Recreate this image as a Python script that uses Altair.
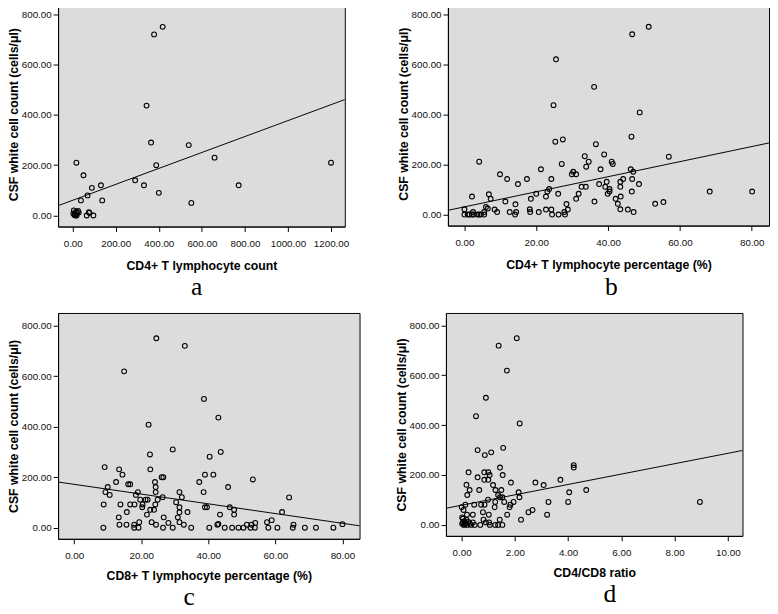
import altair as alt
import pandas as pd

# ---------------- data ----------------
# Panel a: CD4+ T lymphocyte count vs CSF WBC
a_x = [418, 378, 343, 364, 539, 659, 1200, 17, 50, 388, 290, 331, 131, 89, 771, 400, 69, 38, 137, 551,
       78, 65, 96, 75, 5, 10, 12, 15, 20, 25, 8, 18, 28, 3]
a_y = [750, 720, 437, 290, 280, 230, 210, 210, 160, 200, 140, 120, 120, 110, 120, 90, 80, 60, 60, 50,
       10, 0, 0, 13, 20, 5, 0, 15, 10, 18, 2, 0, 12, 8]

# Panel b: CD4+ T lymphocyte percentage vs CSF WBC
b_x = [51.3, 46.7, 25.5, 36.1, 24.8, 48.8, 46.5, 25.3, 27.4, 36.6, 4.1, 56.9, 33.5, 38.9, 34.6, 33.9, 41.0, 41.3,
       27.1, 21.3, 37.9, 46.3, 47.0, 9.9, 29.9, 30.3, 31.1, 11.9, 17.4, 24.2, 14.9, 39.6, 43.4, 44.2, 46.7, 48.6,
       37.5, 32.6, 33.8, 23.6, 23.1, 39.2, 40.4, 43.4, 39.9, 40.4, 46.6, 68.3, 80.1, 6.8, 20.0, 26.1, 31.8, 2.1,
       22.7, 7.3, 18.5, 31.1, 43.5, 42.1, 11.4, 36.2, 55.4, 53.1, 6.0, 42.7, 28.4, 14.2, 6.5, 8.4, 0.0, 18.2,
       22.7, 24.2, 28.8, 43.4, 45.5, 9.1, 12.6, 14.4, 18.3, 20.7, 27.8, 47.1, 5.5, 2.4, 0.0, 0.9, 1.4, 2.1,
       2.6, 4.1, 4.6, 5.5, 14.1, 24.4, 26.2, 28.0, 3.6]
b_y = [750, 720, 620, 510, 437, 408, 311, 291, 300, 281, 211, 231, 233, 240, 211, 191, 211, 202,
       202, 181, 181, 181, 171, 161, 161, 171, 161, 142, 142, 142, 122, 131, 131, 142, 142, 122,
       122, 111, 111, 102, 92, 111, 102, 111, 83, 92, 92, 92, 92, 81, 83, 83, 83, 72,
       72, 63, 63, 63, 72, 63, 52, 52, 50, 43, 30, 43, 42, 41, 24, 20, 21, 21,
       20, 20, 20, 21, 20, 10, 10, 10, 10, 10, 10, 10, 10, 10, 0, 0, 0, 0,
       0, 0, 0, 0, 0, 0, 0, 0, 0]

# Panel c: CD8+ T lymphocyte percentage vs CSF WBC
c_x = [24.5, 33.0, 14.9, 38.7, 43.0, 22.2, 29.4, 22.6, 43.7, 40.4, 9.1, 13.4, 22.7, 14.4, 39.0, 41.5, 26.1, 26.6,
       53.3, 12.5, 24.1, 37.3, 10.0, 16.1, 16.7, 24.3, 45.9, 9.3, 19.0, 24.3, 31.4, 38.6, 10.6, 18.4, 64.1, 26.4,
       32.1, 21.3, 19.7, 21.9, 24.9, 30.4, 8.8, 13.8, 16.7, 18.0, 20.4, 24.2, 39.0, 39.6, 31.4, 46.4, 20.3, 23.8,
       22.7, 47.7, 31.4, 15.7, 33.8, 62.0, 43.5, 47.7, 21.7, 13.3, 26.7, 30.9, 57.5, 58.9, 23.1, 31.4, 28.1, 19.4,
       43.0, 54.0, 80.0, 13.5, 15.6, 17.9, 24.4, 32.7, 42.7, 52.9, 65.4, 51.5,
       8.7, 17.9, 19.2, 26.5, 29.4, 34.9, 40.3, 44.9, 47.1, 49.0, 50.5, 52.6, 53.9, 57.9, 60.6, 65.2, 68.8, 72.1, 77.3]
c_y = [750, 720, 619, 510, 436, 408, 310, 290, 300, 281, 240, 231, 231, 210, 210, 210, 200, 200,
       191, 181, 181, 181, 161, 172, 172, 161, 161, 141, 141, 141, 141, 141, 130, 130, 120, 121,
       121, 111, 111, 111, 111, 101, 92, 92, 92, 92, 92, 92, 81, 81, 81, 81, 81, 71,
       71, 71, 61, 62, 62, 62, 52, 52, 52, 41, 41, 41, 22, 30, 22, 22, 19, 22,
       15, 19, 14, 12, 12, 12, 12, 12, 12, 12, 12, 12,
       0, 0, 0, 0, 0, 0, 0, 0, 0, 0, 0, 0, 0, 0, 0, 0, 0, 0, 0]

# Panel d: CD4/CD8 ratio vs CSF WBC
d_x = [2.07, 1.39, 1.70, 0.91, 0.54, 2.18, 1.56, 0.60, 1.11, 0.87, 4.21, 4.21, 1.44, 0.26, 0.85, 1.00, 1.05, 1.54,
       0.60, 3.71, 0.85, 1.00, 1.85, 2.77, 3.08, 0.18, 1.18, 4.68, 0.30, 0.66, 1.27, 1.49, 2.14, 4.04, 0.21, 1.37,
       1.44, 1.53, 2.17, 0.99, 1.26, 1.60, 1.95, 3.26, 4.00, 8.95, 1.83, 0.14, 0.47, 0.73, 0.86, 1.80, 1.24, 0.00,
       2.66, 2.51, 0.07, 0.80, 0.42, 1.02, 1.71, 3.21, 0.20, 2.23, 0.82, 1.43, 0.02,
       0.02, 0.05, 0.08, 0.10, 0.12, 0.15, 0.18, 0.20, 0.25, 0.30, 0.35, 0.05,
       0.49, 0.70, 1.06, 1.26, 1.37, 1.53, 0.91, 1.03, 0.42]
d_y = [749, 719, 619, 510, 436, 407, 309, 300, 291, 280, 240, 230, 230, 211, 211, 211, 200, 200,
       191, 181, 181, 181, 170, 170, 160, 161, 160, 140, 140, 140, 140, 140, 131, 131, 120, 120,
       111, 111, 111, 101, 92, 92, 92, 92, 92, 92, 81, 81, 81, 81, 81, 71, 71, 71,
       60, 51, 60, 51, 41, 41, 41, 41, 41, 21, 21, 21, 30,
       5, 10, 0, 15, 3, 8, 20, 0, 12, 5, 0, 25,
       0, 0, 0, 0, 0, 0, 10, 10, 10]

# fitted lines (intercept, slope)
fit_a = (60.5, 0.3168)
fit_b = (30.8, 3.01)
fit_c = (171.7, -1.928)
fit_d = (79.1, 20.8)

x_dom_a = [-68, 1264]
x_dom_b = [-4.6, 84.8]
x_dom_c = [-4.8, 85.1]
x_dom_d = [-0.59, 10.55]
y_dom = [-44, 850]

ticks_a = [0, 200, 400, 600, 800, 1000, 1200]
ticks_pct = [0, 20, 40, 60, 80]
ticks_d = [0, 2, 4, 6, 8, 10]
ticks_y = [0, 200, 400, 600, 800]

Y_TITLE = "CSF white cell count (cells/μl)"


def panel(xs, ys, fit, xdom, xticks, xtitle, letter, w, h, dx, offset, tpad):
    pts = pd.DataFrame({"x": xs, "y": ys})
    line = pd.DataFrame({"x": xdom, "y": [fit[0] + fit[1] * v for v in xdom]})
    xs_ = alt.Scale(domain=xdom, nice=False, zero=False)
    ys_ = alt.Scale(domain=y_dom, nice=False, zero=False)
    p = alt.Chart(pts).mark_point(shape="circle", filled=False, color="black",
                                  size=24, strokeWidth=1.1, opacity=1).encode(
        x=alt.X("x:Q", scale=xs_,
                axis=alt.Axis(values=xticks, format=".2f", title=xtitle, titlePadding=tpad)),
        y=alt.Y("y:Q", scale=ys_, axis=alt.Axis(values=ticks_y, format=".2f", title=Y_TITLE)),
    )
    l = alt.Chart(line).mark_line(color="black", strokeWidth=1, clip=True).encode(
        x=alt.X("x:Q", scale=xs_), y=alt.Y("y:Q", scale=ys_))
    return alt.layer(p, l).properties(
        width=w, height=h,
        title=alt.TitleParams(letter, orient="bottom", anchor="middle", frame="group",
                              font="Liberation Serif", fontSize=26, fontWeight="normal",
                              color="black", offset=offset, dx=dx),
    )


pa = panel(a_x, a_y, fit_a, x_dom_a, ticks_a, "CD4+ T lymphocyte count", "a", 292, 229, -5, 2, 12)
pb = panel(b_x, b_y, fit_b, x_dom_b, ticks_pct, "CD4+ T lymphocyte percentage (%)", "b", 327, 228, 3, 3, 12)
pc = panel(c_x, c_y, fit_c, x_dom_c, ticks_pct, "CD8+ T lymphocyte percentage (%)", "c", 307, 230, -20, 3, 9)
pd_ = panel(d_x, d_y, fit_d, x_dom_d, ticks_d, "CD4/CD8 ratio", "d", 302, 227, 16, 3, 9)

chart = alt.vconcat(
    alt.hconcat(pa, pb, spacing=47),
    alt.hconcat(pc, pd_, spacing=34),
    spacing=12,
).properties(
    padding={"left": -2, "top": -13, "right": 0, "bottom": 0}
).configure_axis(
    labelFont="Liberation Sans", labelFontSize=10, labelColor="#111111",
    titleFont="Liberation Sans", titleFontSize=12.5, titleFontWeight="bold", titleColor="black",
    domainColor="black", tickColor="black", tickSize=5, grid=False,
).configure_axisX(
    labelPadding=7,
).configure_axisY(
    labelPadding=2, titlePadding=1,
).configure_view(
    fill="#dcdcdc", stroke="black", strokeWidth=1
)

chart.save("out.html", embed_options={"renderer": "svg", "actions": False})
